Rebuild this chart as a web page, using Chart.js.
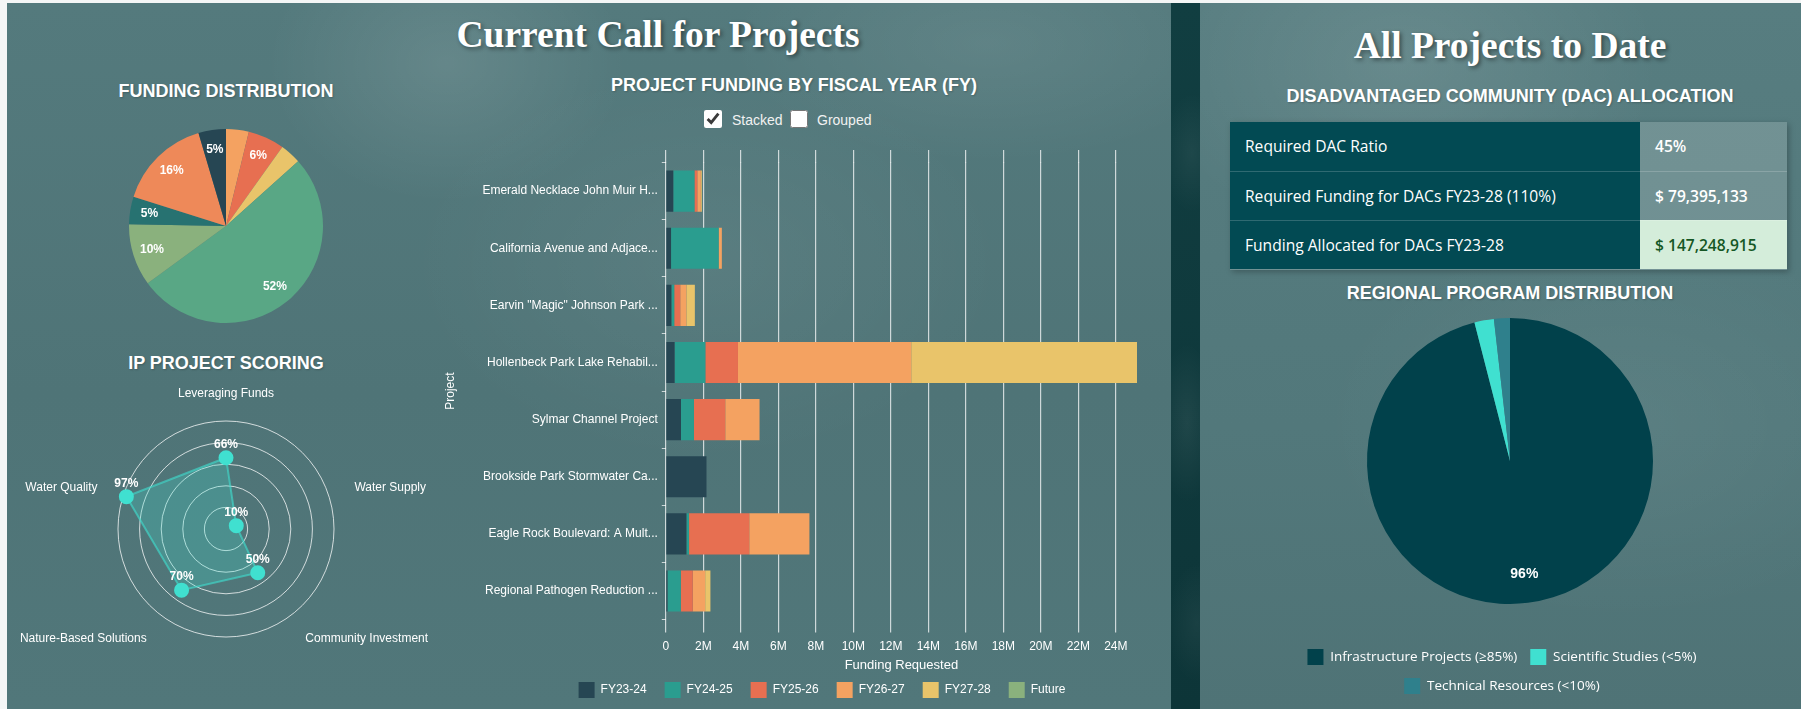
<!DOCTYPE html>
<html>
<head>
<meta charset="utf-8">
<title>Call for Projects</title>
<script src="https://cdn.jsdelivr.net/npm/chart.js@4.4.1/dist/chart.umd.min.js"></script>
<style>
  html, body { margin: 0; padding: 0; width: 1801px; height: 709px; overflow: hidden; background: #f4f6f6; }
  .abs { position: absolute; }
  #strip { left: 7px; top: 3px; width: 1794px; height: 706px;
    background:
      radial-gradient(ellipse 30px 60px at 1185px 150px, rgba(255,255,255,0.06), rgba(255,255,255,0)),
      radial-gradient(ellipse 30px 80px at 1180px 420px, rgba(255,255,255,0.07), rgba(255,255,255,0)),
      radial-gradient(ellipse 30px 60px at 1190px 620px, rgba(255,255,255,0.05), rgba(255,255,255,0)),
      linear-gradient(180deg, #113e41 0%, #0d3538 100%); }
  #leftPanel { left: 7px; top: 3px; width: 1164px; height: 706px;
    background:
      radial-gradient(ellipse 180px 140px at 440px 60px, rgba(255,255,255,0.10), rgba(255,255,255,0)),
      radial-gradient(ellipse 260px 120px at 980px 40px, rgba(255,255,255,0.07), rgba(255,255,255,0)),
      radial-gradient(ellipse 300px 200px at 700px 260px, rgba(255,255,255,0.05), rgba(255,255,255,0)),
      linear-gradient(180deg, #547a7d 0%, #4f7477 55%, #51777a 100%); }
  #rightPanel { left: 1200px; top: 3px; width: 601px; height: 706px;
    background:
      radial-gradient(ellipse 260px 180px at 200px 60px, rgba(255,255,255,0.10), rgba(255,255,255,0)),
      radial-gradient(ellipse 300px 200px at 420px 420px, rgba(255,255,255,0.05), rgba(255,255,255,0)),
      linear-gradient(180deg, #577d80 0%, #52787b 60%, #4f7376 100%); }
  .h1 { font-family: 'Liberation Serif', 'Times New Roman', serif; font-weight: bold; font-size: 37.5px;
    line-height: 37.5px; color: #fff; white-space: nowrap; transform: translateX(-50%);
    text-shadow: 2px 2px 4px rgba(0,0,0,0.45); }
  .h3 { font-family: 'Liberation Sans', Arial, sans-serif; font-weight: bold; font-size: 18px;
    line-height: 18px; color: #fff; white-space: nowrap; transform: translateX(-50%);
    text-shadow: 1px 1px 2px rgba(0,0,0,0.2); }
  .chk { margin: 0; width: 18px; height: 18px; accent-color: #ffffff; }
  .chkText { font-family: 'Liberation Sans', Arial, sans-serif; font-size: 14px; line-height: 14px; color: #f2f2f2; }
  #dac { left: 1230px; top: 122px; width: 557px; border-collapse: collapse;
    font-family: 'Open Sans', 'Noto Sans', sans-serif; font-size: 15.6px;
    box-shadow: 2px 2px 6px rgba(0,0,0,0.25); }
  #dac td { height: 49px; padding: 0 15px; box-sizing: border-box; border-bottom: 1px solid rgba(255,255,255,0.18); }
  #dac td.k { width: 410px; background: #024a53; color: #fff; font-weight: 500; }
  #dac td.v { background: rgba(255,255,255,0.17); color: #fff; font-weight: 600; }
  #dac tr.ok td.v { background: #d4edda; color: #155724; }
</style>
</head>
<body>
<div id="strip" class="abs"></div>
<div id="leftPanel" class="abs"></div>
<div id="rightPanel" class="abs"></div>

<div class="abs h1" style="left:658px; top:16px;">Current Call for Projects</div>
<div class="abs h1" style="left:1510px; top:27px;">All Projects to Date</div>

<div class="abs h3" style="left:226px; top:82px;">FUNDING DISTRIBUTION</div>
<div class="abs h3" style="left:226px; top:354px;">IP PROJECT SCORING</div>
<div class="abs h3" style="left:794px; top:75.5px;">PROJECT FUNDING BY FISCAL YEAR (FY)</div>
<div class="abs h3" style="left:1510px; top:86.5px;">DISADVANTAGED COMMUNITY (DAC) ALLOCATION</div>
<div class="abs h3" style="left:1510px; top:284px;">REGIONAL PROGRAM DISTRIBUTION</div>

<input type="checkbox" class="abs chk" style="left:704px; top:110px;" checked>
<div class="abs chkText" style="left:732px; top:113px;">Stacked</div>
<input type="checkbox" class="abs chk" style="left:790px; top:110px;">
<div class="abs chkText" style="left:817px; top:113px;">Grouped</div>

<canvas id="fundingPie" class="abs" width="194" height="194" style="left:129px; top:129px;"></canvas>
<canvas id="scoreRadar" class="abs" width="440" height="300" style="left:6px; top:380px;"></canvas>
<canvas id="fyBars" class="abs" width="721" height="569" style="left:439px; top:140px;"></canvas>
<table id="dac" class="abs"></table>
<canvas id="regionPie" class="abs" width="500" height="418" style="left:1260px; top:286px;"></canvas>

<script>
// ---- data ----
const projects = [
  'Emerald Necklace John Muir H...',
  'California Avenue and Adjace...',
  'Earvin "Magic" Johnson Park ...',
  'Hollenbeck Park Lake Rehabil...',
  'Sylmar Channel Project',
  'Brookside Park Stormwater Ca...',
  'Eagle Rock Boulevard: A Mult...',
  'Regional Pathogen Reduction ...'
];
const fyLabels = ['FY23-24', 'FY24-25', 'FY25-26', 'FY26-27', 'FY27-28', 'Future'];
const fyColors = ['#264653', '#2a9d8f', '#e76f51', '#f4a261', '#e9c46a', '#8ab17d'];
// funding requested, dollars
const fy2324 = [400000, 280000, 300000, 470000, 810000, 2170000, 1100000, 90000];
const fy2425 = [1130000, 2540000, 150000, 1640000, 690000, 0, 140000, 710000];
const fy2526 = [150000, 0, 320000, 1740000, 1670000, 0, 3210000, 640000];
const fy2627 = [190000, 170000, 330000, 9240000, 1830000, 0, 3210000, 660000];
const fy2728 = [50000, 0, 450000, 12040000, 0, 0, 0, 280000];
const future = [0, 0, 0, 0, 0, 0, 0, 0];
// x axis ticks (0 .. 24M)
const xTicks = [0, 2000000, 4000000, 6000000, 8000000, 10000000, 12000000,
  14000000, 16000000, 18000000, 20000000, 22000000, 24000000];

// share of current call funding per project (%)
const pieShares = [3.8, 6.1, 3.5, 51.8, 10.4, 4.6, 15.6, 4.6];
const pieColors = ['#f4a261', '#e76f51', '#e9c46a', '#59a785', '#8ab17d', '#277271', '#ee8959', '#264653'];

const radarLabels = ['Leveraging Funds', 'Water Supply', 'Community Investment', 'Nature-Based Solutions', 'Water Quality'];
const radarScores = [66, 10, 50, 70, 97];

const dacLabels = ['Required DAC Ratio', 'Required Funding for DACs FY23-28 (110%)', 'Funding Allocated for DACs FY23-28'];
const dacValues = ['45%', '$ 79,395,133', '$ 147,248,915'];

const regionLabels = ['Infrastructure Projects (\u226585%)', 'Scientific Studies (<5%)', 'Technical Resources (<10%)'];
const regionShares = [96.0, 2.2, 1.8];
const regionColors = ['#01414b', '#40e0d0', '#2f808c'];

Chart.defaults.font.family = "'Liberation Sans', Arial, sans-serif";
Chart.defaults.color = '#ffffff';
Chart.defaults.animation = false;

// percent labels on pie slices, only for the bigger ones
const sliceLabels = {
  id: 'sliceLabels',
  afterDatasetsDraw(chart, args, opts) {
    const ctx = chart.ctx;
    const values = chart.data.datasets[0].data;
    const total = values.reduce((a, b) => a + b, 0);
    ctx.save();
    ctx.font = opts.font;
    ctx.fillStyle = '#fff';
    ctx.textAlign = 'center';
    ctx.textBaseline = 'middle';
    chart.getDatasetMeta(0).data.forEach((arc, i) => {
      const pct = values[i] / total * 100;
      if (pct < opts.minPct) return;
      const mid = (arc.startAngle + arc.endAngle) / 2;
      const r = arc.outerRadius * 0.8;
      ctx.fillText(Math.round(pct) + '%', arc.x + Math.cos(mid) * r, arc.y + Math.sin(mid) * r);
    });
    ctx.restore();
  }
};

// nudge a centered legend sideways (moves its left edge only -> centre moves by dx)
const legendShift = {
  id: 'legendShift',
  afterLayout(chart, args, opts) {
    if (chart.legend && opts.dx) chart.legend.left += 2 * opts.dx;
  }
};

// radar: axis names well outside the rings + value labels above points
const radarText = {
  id: 'radarText',
  afterDatasetsDraw(chart) {
    const ctx = chart.ctx;
    const scale = chart.scales.r;
    ctx.save();
    ctx.fillStyle = '#fff';
    ctx.textBaseline = 'middle';
    ctx.font = "12px 'Liberation Sans', Arial, sans-serif";
    chart.data.labels.forEach((lab, i) => {
      const p = scale.getPointPosition(i, scale.drawingArea + 27);
      const dx = p.x - scale.xCenter;
      ctx.textAlign = Math.abs(dx) < 1 ? 'center' : (dx > 0 ? 'left' : 'right');
      ctx.fillText(lab, p.x, p.y);
    });
    ctx.font = "bold 12px 'Liberation Sans', Arial, sans-serif";
    ctx.textAlign = 'center';
    chart.getDatasetMeta(0).data.forEach((pt, i) => {
      ctx.fillText(radarScores[i] + '%', pt.x, pt.y - 13);
    });
    ctx.restore();
  }
};

// funding distribution pie
new Chart(document.getElementById('fundingPie'), {
  type: 'pie',
  data: {
    labels: projects,
    datasets: [{ data: pieShares, backgroundColor: pieColors, borderWidth: 0 }]
  },
  options: {
    responsive: false,
    plugins: {
      legend: { display: false },
      tooltip: { enabled: false },
      sliceLabels: { font: "bold 12px 'Liberation Sans', Arial, sans-serif", minPct: 4.5 }
    }
  },
  plugins: [sliceLabels]
});

// scoring radar
new Chart(document.getElementById('scoreRadar'), {
  type: 'radar',
  data: {
    labels: radarLabels,
    datasets: [{
      data: radarScores,
      backgroundColor: 'rgba(64, 224, 208, 0.25)',
      borderColor: 'rgba(64, 224, 208, 0.6)',
      borderWidth: 2,
      pointBackgroundColor: '#40e0d0',
      pointBorderColor: '#40e0d0',
      pointRadius: 6.5
    }]
  },
  options: {
    responsive: false,
    layout: { padding: { left: 112, right: 112, top: 41.5, bottom: 42.5 } },
    scales: {
      r: {
        min: 0,
        max: 100,
        ticks: { display: false, stepSize: 20 },
        grid: { circular: true, color: 'rgba(255,255,255,0.75)', lineWidth: 1 },
        angleLines: { display: false },
        pointLabels: { display: false }
      }
    },
    plugins: { legend: { display: false }, tooltip: { enabled: false } }
  },
  plugins: [radarText]
});

// stacked bars by fiscal year
const fySeries = [fy2324, fy2425, fy2526, fy2627, fy2728, future];
const totals = projects.map((p, i) => fySeries.reduce((s, arr) => s + arr[i], 0));
const xMax = Math.max(...totals);
const gridCol = 'rgba(255,255,255,0.72)';
const useTicks = scale => { scale.ticks = xTicks.map(v => ({ value: v })); };

new Chart(document.getElementById('fyBars'), {
  type: 'bar',
  data: {
    labels: projects,
    datasets: fyLabels.map((lab, i) => ({
      label: lab,
      data: fySeries[i],
      backgroundColor: fyColors[i],
      borderWidth: 0
    }))
  },
  options: {
    responsive: false,
    indexAxis: 'y', // horizontal
    layout: { padding: { top: 10, right: 23, bottom: 1, left: 0 } },
    scales: {
      x: {
        stacked: true,
        min: 0,
        max: xMax,
        afterBuildTicks: useTicks,
        border: { display: false },
        grid: { color: gridCol, lineWidth: 1.2, tickLength: 13 },
        ticks: {
          padding: 7,
          maxRotation: 0,
          autoSkip: false,
          color: '#fff',
          font: { size: 12 },
          callback: v => v === 0 ? '0' : (v / 1000000) + 'M'
        },
        title: { display: true, text: 'Funding Requested', color: '#fff', font: { size: 13 }, padding: { top: -3.1, bottom: -9.5 } }
      },
      x2: {
        type: 'linear',
        position: 'top',
        display: true,
        min: 0,
        max: xMax,
        afterBuildTicks: useTicks,
        border: { display: false },
        grid: { drawOnChartArea: false, color: gridCol, lineWidth: 1.2, tickLength: 12.5 },
        ticks: { display: false }
      },
      y: {
        stacked: true,
        border: { display: false },
        grid: { drawOnChartArea: false, tickLength: 4, color: 'rgba(255,255,255,0.7)' },
        ticks: { padding: 4, color: '#fff', font: { size: 12 } },
        title: { display: true, text: 'Project', color: '#fff', font: { size: 12 }, padding: { top: 4, bottom: 21 } }
      }
    },
    plugins: {
      legend: {
        position: 'bottom',
        labels: { boxWidth: 16, boxHeight: 16, padding: 18, color: '#fff', font: { size: 12 } }
      },
      legendShift: { dx: 34 },
      tooltip: { enabled: false }
    }
  },
  plugins: [legendShift]
});

// DAC table
const dacTable = document.getElementById('dac');
dacLabels.forEach((lab, i) => {
  const tr = document.createElement('tr');
  if (i === dacLabels.length - 1) tr.className = 'ok';
  tr.innerHTML = '<td class="k"></td><td class="v"></td>';
  tr.children[0].textContent = lab;
  tr.children[1].textContent = dacValues[i];
  dacTable.appendChild(tr);
});

// regional program pie
new Chart(document.getElementById('regionPie'), {
  type: 'pie',
  data: {
    labels: regionLabels,
    datasets: [{ data: regionShares, backgroundColor: regionColors, borderWidth: 0 }]
  },
  options: {
    responsive: false,
    radius: 143,
    plugins: {
      legend: {
        position: 'bottom',
        labels: { boxWidth: 16, boxHeight: 16, padding: 13, color: '#fff', font: { family: "'Open Sans', 'Noto Sans', sans-serif", size: 13.5 } }
      },
      legendShift: { dx: -8 },
      tooltip: { enabled: false },
      sliceLabels: { font: "bold 14px 'Liberation Sans', Arial, sans-serif", minPct: 4.5 }
    }
  },
  plugins: [sliceLabels, legendShift]
});
</script>
</body>
</html>
